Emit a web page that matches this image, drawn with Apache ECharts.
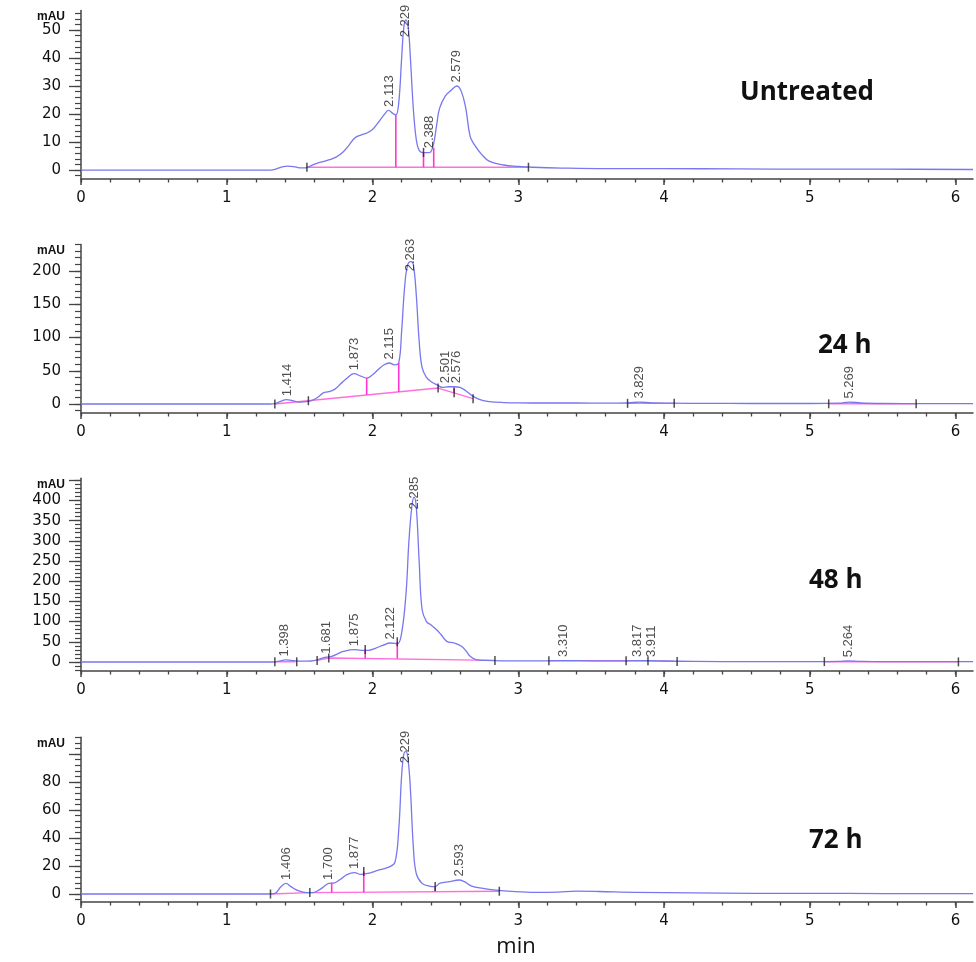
<!DOCTYPE html>
<html><head><meta charset="utf-8">
<script src="https://cdn.jsdelivr.net/npm/echarts@6/dist/echarts.min.js"></script>
<style>html,body{margin:0;padding:0;background:#fff}#c{width:976px;height:962px}</style>
</head><body><div id="c"></div>
<script>
// ---------- shared axis data ----------
const xTickLabels = [0, 1, 2, 3, 4, 5, 6];

// ---------- Untreated ----------
const untreatedTime   = [0, 0.40, 0.75, 1.30, 1.34, 1.38, 1.42, 1.46, 1.50, 1.54, 1.58, 1.62, 1.66, 1.70, 1.75, 1.80, 1.84, 1.88, 1.92, 1.96, 2.00, 2.04, 2.08, 2.11, 2.14, 2.16, 2.18, 2.20, 2.215, 2.229, 2.245, 2.26, 2.28, 2.30, 2.32, 2.35, 2.38, 2.40, 2.42, 2.44, 2.46, 2.50, 2.54, 2.579, 2.61, 2.64, 2.67, 2.70, 2.75, 2.80, 2.90, 3.00, 3.10, 3.30, 3.60, 4.00, 4.50, 5.00, 5.50, 6.12];
const untreatedSignal = [0, 0, 0, 0, 0.4, 1.1, 1.4, 1.2, 0.8, 0.8, 1.6, 2.4, 3.0, 3.6, 4.6, 6.5, 9.0, 11.5, 12.5, 13.2, 14.5, 17.0, 19.8, 21.3, 20.2, 19.6, 24, 40, 51, 53.6, 51, 40, 22, 11, 7, 6.2, 6.2, 6.5, 9.5, 16, 22, 26.5, 28.5, 30, 28, 22, 12, 9, 5.5, 3.2, 1.8, 1.3, 1.0, 0.7, 0.5, 0.5, 0.4, 0.3, 0.3, 0.2];
const untreatedPeakRT     = [2.113, 2.229, 2.388, 2.579];
const untreatedPeakHeight = [21.3, 53.6, 6.5, 30];
const untreatedBaselines  = [[[1.55, 1.0], [3.07, 1.0]]];
const untreatedDrops      = [[2.16, 1.0, 19.6], [2.35, 1.0, 6.3], [2.42, 1.0, 8.0]];
const untreatedMarks      = [[1.55, 1.0], [3.07, 1.0], [2.35, 6.3]];
const untreatedYTicks     = [0, 10, 20, 30, 40, 50];

// ---------- 24 h ----------
const h24Time   = [0, 1.30, 1.33, 1.37, 1.41, 1.45, 1.50, 1.55, 1.59, 1.63, 1.66, 1.70, 1.74, 1.78, 1.82, 1.873, 1.92, 1.96, 2.00, 2.04, 2.08, 2.115, 2.15, 2.18, 2.20, 2.22, 2.24, 2.263, 2.28, 2.30, 2.32, 2.34, 2.37, 2.40, 2.44, 2.48, 2.52, 2.56, 2.60, 2.64, 2.68, 2.72, 2.76, 2.80, 2.90, 3.00, 3.20, 3.40, 3.60, 3.75, 3.83, 3.92, 4.05, 4.30, 4.60, 5.00, 5.20, 5.27, 5.35, 5.50, 5.80, 6.12];
const h24Signal = [0, 0, 0.5, 4, 6.5, 5, 3, 3.5, 6, 11, 16.5, 18.5, 22, 30, 38, 45.6, 42, 39, 44, 52, 59, 61.7, 59, 62, 110, 175, 208, 214, 210, 165, 95, 55, 40, 34, 29, 25, 26, 26, 25, 20, 13, 8, 5, 3.5, 2.2, 1.6, 1.5, 1.5, 1.2, 1.5, 3, 1.5, 1.2, 1, 0.8, 0.8, 1.2, 3, 1.5, 0.8, 0.6, 0.5];
const h24PeakRT     = [1.414, 1.873, 2.115, 2.263, 2.501, 2.576, 3.829, 5.269];
const h24PeakHeight = [6.5, 45.6, 61.7, 214, 26, 26, 3, 3];
const h24Baselines  = [[[1.33, 0], [2.45, 24], [2.69, 8]], [[3.75, 1], [4.07, 1]], [[5.13, 0.3], [5.73, 0.3]]];
const h24Drops      = [[1.96, 13.5, 39], [2.18, 18.2, 62], [2.56, 16.7, 26]];
const h24Marks      = [[1.33, 0], [1.56, 4.9], [2.45, 24], [2.56, 17], [2.69, 8], [3.75, 1], [4.07, 1], [5.13, 0.3], [5.73, 0.3]];
const h24YTicks     = [0, 50, 100, 150, 200];

// ---------- 48 h ----------
const h48Time   = [0, 1.30, 1.33, 1.37, 1.40, 1.44, 1.48, 1.53, 1.58, 1.62, 1.65, 1.681, 1.72, 1.76, 1.80, 1.875, 1.92, 1.97, 2.02, 2.07, 2.122, 2.17, 2.20, 2.23, 2.25, 2.27, 2.285, 2.30, 2.32, 2.34, 2.37, 2.40, 2.44, 2.47, 2.51, 2.56, 2.61, 2.64, 2.67, 2.71, 2.78, 2.88, 3.00, 3.20, 3.31, 3.50, 3.75, 3.82, 3.91, 4.00, 4.20, 4.60, 5.00, 5.20, 5.26, 5.35, 5.60, 6.12];
const h48Signal = [0, 0, 0.5, 3, 5, 4, 2.5, 2, 2.5, 5, 9, 12, 14, 20, 26, 30.5, 29, 29, 34, 41, 47, 45, 72, 170, 300, 385, 408, 385, 250, 130, 100, 92, 80, 68, 51, 47, 39, 28, 14, 6, 4, 3, 3, 3, 3.5, 3, 3, 3.5, 3.5, 2.5, 1.5, 1, 1, 1.5, 3, 1.5, 1, 0.8];
const h48PeakRT     = [1.398, 1.681, 1.875, 2.122, 2.285, 3.310, 3.817, 3.911, 5.264];
const h48PeakHeight = [5, 12, 30.5, 47, 408, 3.5, 3.5, 3.5, 3];
const h48Baselines  = [[[1.33, 0.5], [1.47, 0.5]], [[1.62, 4], [1.70, 10], [2.84, 4]], [[3.21, 3], [3.74, 3], [4.07, 1.5]], [[5.11, 0.5], [6.02, 0.3]]];
const h48Drops      = [[1.95, 9.5, 31], [2.17, 8.5, 50]];
const h48Marks      = [[1.33, 0.5], [1.48, 0.5], [1.62, 4], [1.70, 10], [1.95, 31], [2.17, 50], [2.84, 4], [3.21, 3], [3.74, 3], [3.89, 3], [4.09, 1.5], [5.10, 1], [6.02, 0.3]];
const h48YTicks     = [0, 50, 100, 150, 200, 250, 300, 350, 400];

// ---------- 72 h ----------
const h72Time   = [0, 1.28, 1.33, 1.37, 1.406, 1.44, 1.49, 1.55, 1.59, 1.64, 1.68, 1.700, 1.74, 1.78, 1.82, 1.877, 1.92, 1.97, 2.04, 2.12, 2.155, 2.18, 2.20, 2.215, 2.229, 2.245, 2.26, 2.28, 2.30, 2.34, 2.39, 2.43, 2.46, 2.53, 2.593, 2.63, 2.68, 2.76, 2.83, 2.98, 3.12, 3.27, 3.40, 3.55, 3.80, 4.20, 4.60, 5.00, 5.50, 6.12];
const h72Signal = [0, 0, 0.5, 5, 7.6, 5.3, 2.4, 1, 1, 3.3, 6.4, 7.6, 8, 10.5, 13.6, 15.3, 14, 14.8, 17, 19.6, 23, 46, 85, 100, 102, 95, 75, 34, 14.8, 7.6, 5.7, 5.3, 7.6, 8.8, 10, 8.8, 5.7, 4, 2.9, 1.7, 1.2, 1.4, 2.0, 1.8, 1.2, 0.8, 0.5, 0.5, 0.3, 0.3];
const h72PeakRT     = [1.406, 1.700, 1.877, 2.229, 2.593];
const h72PeakHeight = [7.6, 7.6, 15.3, 102, 10];
const h72Baselines  = [[[1.30, 0], [1.57, 1], [2.87, 2]]];
const h72Drops      = [[1.72, 1.1, 8], [1.94, 1.3, 16], [2.43, 1.7, 5.3]];
const h72Marks      = [[1.30, 0], [1.57, 1], [1.94, 16], [2.43, 5.3], [2.87, 2]];
const h72YTicks     = [0, 20, 40, 60, 80];

// ---------- layout ----------
const panels = [
  {title: 'Untreated', time: untreatedTime, signal: untreatedSignal, rt: untreatedPeakRT, ph: untreatedPeakHeight, base: untreatedBaselines, drops: untreatedDrops, marks: untreatedMarks, yLabels: untreatedYTicks,
   yMin: -3.2, yMax: 57, major: 10, minor: 2, top: 10.4, height: 168.6, tx: 740, ty: 93},
  {title: '24 h', time: h24Time, signal: h24Signal, rt: h24PeakRT, ph: h24PeakHeight, base: h24Baselines, drops: h24Drops, marks: h24Marks, yLabels: h24YTicks,
   yMin: -13.5, yMax: 240, major: 50, minor: 10, top: 244.4, height: 168.6, tx: 818, ty: 346},
  {title: '48 h', time: h48Time, signal: h48Signal, rt: h48PeakRT, ph: h48PeakHeight, base: h48Baselines, drops: h48Drops, marks: h48Marks, yLabels: h48YTicks,
   yMin: -22.3, yMax: 455, major: 50, minor: 10, top: 478.2, height: 192.8, tx: 809, ty: 581},
  {title: '72 h', time: h72Time, signal: h72Signal, rt: h72PeakRT, ph: h72PeakHeight, base: h72Baselines, drops: h72Drops, marks: h72Marks, yLabels: h72YTicks,
   yMin: -5.7, yMax: 112, major: 20, minor: 4, top: 737.2, height: 164.8, tx: 809, ty: 841}
];

const X_MAX = 6.12;
const AXIS_COLOR = '#444';
const LABEL_FONT = {fontFamily: 'DejaVu Sans', fontSize: 15, color: '#111'};
const CURVE = '#7777ee';
const PINK = '#ff36cf';

function steps(lo, hi, st) {
  const out = [];
  for (let k = Math.ceil(lo / st - 1e-9); k * st <= hi + 1e-9; k++) out.push(+(k * st).toFixed(6));
  return out;
}
const xMinorVals = steps(0, X_MAX, 0.2);

const grids = [], xAxes = [], yAxes = [], series = [], graphics = [];
panels.forEach((p, i) => {
  grids.push({left: 81, right: 976 - 973, top: p.top, height: p.height});
  const xi = xAxes.length, yi = yAxes.length;
  xAxes.push({
    gridIndex: i, type: 'value', min: 0, max: X_MAX, position: 'bottom',
    axisLine: {onZero: false, lineStyle: {color: AXIS_COLOR, width: 1.5}},
    axisTick: {customValues: xTickLabels, length: 6, lineStyle: {color: AXIS_COLOR, width: 1.5}},
    axisLabel: Object.assign({customValues: xTickLabels, margin: 12}, LABEL_FONT),
    splitLine: {show: false}
  });
  xAxes.push({
    gridIndex: i, type: 'value', min: 0, max: X_MAX, position: 'bottom',
    axisLine: {show: false, onZero: false},
    axisTick: {customValues: xMinorVals, length: 3.5, lineStyle: {color: AXIS_COLOR, width: 1.3}},
    axisLabel: {show: false}, splitLine: {show: false}
  });
  yAxes.push({
    gridIndex: i, type: 'value', min: p.yMin, max: p.yMax, position: 'left',
    name: 'mAU', nameLocation: 'end', nameGap: -6,
    nameTextStyle: {fontFamily: 'Liberation Sans', fontWeight: 'bold', fontSize: 12, color: '#111', align: 'right', verticalAlign: 'middle', padding: [0, 16, 0, 0]},
    axisLine: {onZero: false, lineStyle: {color: AXIS_COLOR, width: 1.5}},
    axisTick: {customValues: steps(0, p.yMax, p.major), length: 12, lineStyle: {color: AXIS_COLOR, width: 1.3}},
    axisLabel: Object.assign({customValues: p.yLabels, margin: 20}, LABEL_FONT),
    splitLine: {show: false}
  });
  yAxes.push({
    gridIndex: i, type: 'value', min: p.yMin, max: p.yMax, position: 'left', offset: 0,
    axisLine: {show: false, onZero: false},
    axisTick: {customValues: steps(p.yMin, p.yMax, p.minor), length: 6, lineStyle: {color: AXIS_COLOR, width: 1.2}},
    axisLabel: {show: false}, splitLine: {show: false}
  });
  const ax = {xAxisIndex: xi, yAxisIndex: yi};
  // chromatogram trace
  series.push(Object.assign({
    type: 'line', data: p.time.map((t, k) => [t, p.signal[k]]),
    symbol: 'none', smooth: 0.4,
    lineStyle: {color: CURVE, width: 1.3}, z: 3, silent: true
  }, ax));
  // integration baselines
  p.base.forEach(seg => series.push(Object.assign({
    type: 'line', data: seg, symbol: 'none',
    lineStyle: {color: '#ff70dc', width: 1.4}, z: 2, silent: true
  }, ax)));
  // drop lines
  p.drops.forEach(d => series.push(Object.assign({
    type: 'line', data: [[d[0], d[1]], [d[0], d[2]]], symbol: 'none',
    lineStyle: {color: PINK, width: 1.6}, z: 4, silent: true
  }, ax)));
  // event tick marks
  series.push(Object.assign({
    type: 'scatter', data: p.marks, symbol: 'rect', symbolSize: [1.5, 9],
    itemStyle: {color: '#222'}, z: 5, silent: true
  }, ax));
  // peak retention-time labels
  const cap = p.yMax - 0.18 * (p.yMax - p.yMin);
  series.push(Object.assign({
    type: 'scatter', symbolSize: 1, itemStyle: {color: 'rgba(0,0,0,0)'},
    data: p.rt.map((r, k) => ({value: [r, Math.min(p.ph[k], cap)], name: r.toFixed(3)})),
    label: {show: true, position: 'top', distance: 3, rotate: 90, align: 'left', verticalAlign: 'middle',
            formatter: '{b}', fontFamily: 'Liberation Sans', fontSize: 13, color: '#222'},
    z: 6, silent: true
  }, ax));
  graphics.push({type: 'text', x: p.tx, y: p.ty,
    style: {text: p.title, fontFamily: 'Open Sans', fontWeight: 'bold', fontSize: 26, fill: '#111', verticalAlign: 'middle'}});
});
graphics.push({type: 'text', x: 516, y: 947,
  style: {text: 'min', fontFamily: 'Open Sans', fontSize: 22, fill: '#111', align: 'center', verticalAlign: 'middle'}});

const chart = echarts.init(document.getElementById('c'), null, {renderer: 'canvas'});
chart.setOption({
  animation: false,
  backgroundColor: '#fff',
  grid: grids, xAxis: xAxes, yAxis: yAxes, series: series, graphic: graphics
});
</script></body></html>
